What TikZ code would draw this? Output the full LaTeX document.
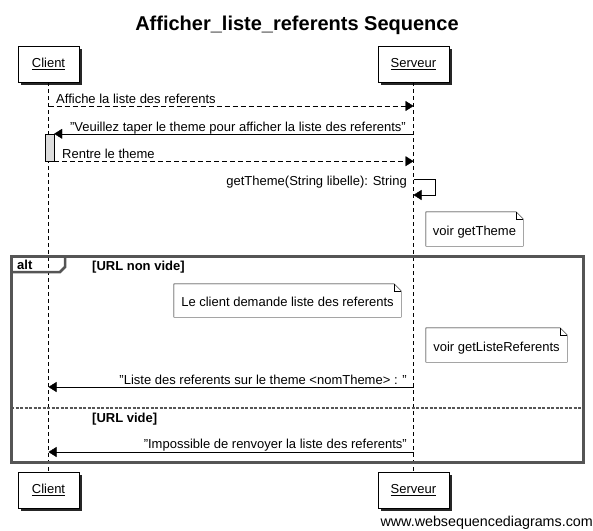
\documentclass[tikz,border=0pt]{standalone}
\usepackage{fontspec}
\setmainfont{Liberation Sans}
\usetikzlibrary{arrows.meta,calc,shadows}
\definecolor{framegray}{HTML}{555555}
\definecolor{actgray}{HTML}{DDDDDD}
\tikzstyle{actor}=[draw=black,fill=white,minimum height=36pt,inner sep=0pt,font=\fontsize{13}{15}\selectfont,drop shadow={shadow xshift=3pt,shadow yshift=-3pt,fill=black!85,opacity=1}]
\tikzstyle{msg}=[-{Triangle[length=8pt,width=10pt]}]
\tikzstyle{reply}=[msg,dash pattern=on 5pt off 3pt]
\tikzstyle{lbl}=[inner sep=0pt,font=\fontsize{13}{15}\selectfont]
\tikzstyle{note}=[inner sep=0pt,text height=12pt,text depth=0pt,font=\fontsize{13}{15}\selectfont]
\tikzstyle{guard}=[inner sep=0pt,font=\bfseries\fontsize{13}{15}\selectfont]
\newcommand{\notebox}[1]{\draw (#1.north west) -- ($(#1.north east)+(-7,0)$) -- ($(#1.north east)+(0,7)$) -- (#1.south east) -- (#1.south west) -- cycle;
  \draw ($(#1.north east)+(-7,0)$) -- ($(#1.north east)+(-7,7)$) -- ($(#1.north east)+(0,7)$);}

\begin{document}
\begin{tikzpicture}[x=1pt,y=-1pt]
	\useasboundingbox[fill=white] (0,0) rectangle (593,530);
	\node [font=\bfseries\fontsize{20}{24}\selectfont,anchor=base] (title) at (297,30) {Afficher\_liste\_referents Sequence};
	% participants
	\node [actor,minimum width=61pt] (cTop) at (48.5,64) {\underline{Client}};
	\node [actor,minimum width=71pt] (sTop) at (413.5,64) {\underline{Serveur}};
	\node [actor,minimum width=61pt] (cBot) at (48.5,490) {\underline{Client}};
	\node [actor,minimum width=71pt] (sBot) at (413.5,490) {\underline{Serveur}};
	\draw [dash pattern=on 4pt off 3pt] (cTop.south) -- (cBot.north);
	\draw [dash pattern=on 4pt off 3pt] (sTop.south) -- (sBot.north);
	% activation
	\node [draw=black,fill=actgray,minimum width=9pt,minimum height=27pt,inner sep=0pt] (act) at (49.5,147.5) {};
	% messages
	\draw [reply] (cTop |- 0,106) -- (sTop |- 0,106);
	\node [lbl,anchor=base west] (m1) at (56,103) {Affiche la liste des referents};
	\draw [msg] (sTop |- act.north) -- (act.north east);
	\node [lbl,anchor=base east] (m2) at (406,131) {"Veuillez taper le theme pour afficher la liste des referents"};
	\draw [reply] (act.south east) -- (sTop |- act.south);
	\node [lbl,anchor=base west] (m3) at (62,158) {Rentre le theme};
	\draw [msg] (sTop |- 0,179) -- ++(22,0) -- ++(0,16) -- (sTop |- 0,195);
	\node [lbl,anchor=base east] (m4) at (407,185) {getTheme(String libelle): String};
	% notes
	\node [note,minimum width=97pt,minimum height=34pt] (n1) at (474.5,229) {voir getTheme};
	\notebox{n1}
	% alt frame
	\draw [framegray,line width=3pt] (11,256) rectangle (583,462);
	\draw [framegray,line width=2.5pt] (11,272) -- (60,272) -- (65,267) -- (65,256);
	\node [guard,anchor=base west] (alt) at (17,269) {alt};
	\node [guard,anchor=base west] (g1) at (92,270) {[URL non vide]};
	\node [note,minimum width=227pt,minimum height=33pt] (n2) at (287.5,300.5) {Le client demande liste des referents};
	\notebox{n2}
	\node [note,minimum width=141pt,minimum height=34pt] (n3) at (496.5,345) {voir getListeReferents};
	\notebox{n3}
	\draw [msg] (sTop |- 0,387) -- (cTop |- 0,387);
	\node [lbl,anchor=base east] (m5) at (407,384) {"Liste des referents sur le theme <nomTheme> : "};
	\draw [framegray,line width=2pt,dash pattern=on 3pt off 1.5pt] (11,408) -- (583,408);
	\node [guard,anchor=base west] (g2) at (92,422) {[URL vide]};
	\draw [msg] (sTop |- 0,452) -- (cTop |- 0,452);
	\node [lbl,anchor=base east] (m6) at (407,448) {"Impossible de renvoyer la liste des referents"};
	% footer
	\node [inner sep=0pt,font=\fontsize{14.3}{16}\selectfont,anchor=base east] (web) at (593,526) {www.websequencediagrams.com};
\end{tikzpicture}
\end{document}
